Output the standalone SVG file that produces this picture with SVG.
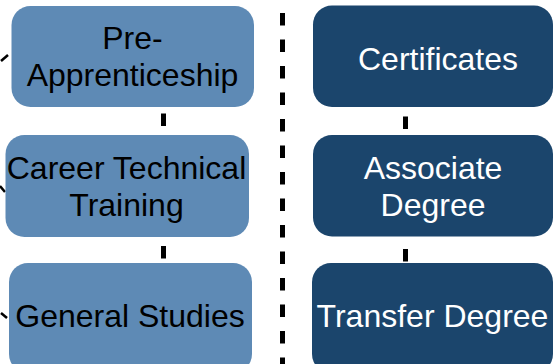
<svg xmlns="http://www.w3.org/2000/svg" width="553" height="364" viewBox="0 0 553 364">
<style>
.conn{stroke:#000;stroke-width:5;fill:none;stroke-dasharray:12.5 14}
.tick{stroke:#000;stroke-width:2.5;fill:none}
.lb{fill:#5e8ab5}
.rb{fill:#1b456c}
.lt{font-family:"Liberation Sans",Arial,sans-serif;font-size:32px;fill:#000;text-anchor:middle}
.rt{font-family:"Liberation Sans",Arial,sans-serif;font-size:32px;fill:#fff;text-anchor:middle}
</style>
<g id="connectors">
<line class="conn" x1="163.5" y1="-19" x2="163.5" y2="364"/>
<line class="conn" x1="405.5" y1="-16" x2="405.5" y2="364"/>
<line class="conn" x1="282.5" y1="-13.5" x2="282.5" y2="364"/>
<line class="tick" x1="1" y1="61" x2="8" y2="55"/>
<line class="tick" x1="0" y1="186" x2="5" y2="192"/>
<line class="tick" x1="1" y1="313" x2="7" y2="318"/>
</g>
<g id="pre-apprenticeship">
<rect class="lb" x="11.5" y="6" width="242.5" height="101" rx="19"/>
<text class="lt" x="132.5" y="49">Pre-</text>
<text class="lt" x="132.5" y="86">Apprenticeship</text>
</g>
<g id="career-technical-training">
<rect class="lb" x="5.5" y="135" width="243.5" height="102" rx="19"/>
<text class="lt" x="126.5" y="179">Career Technical</text>
<text class="lt" x="126.5" y="216">Training</text>
</g>
<g id="general-studies">
<rect class="lb" x="9" y="263" width="243" height="110" rx="19"/>
<text class="lt" x="130" y="327">General Studies</text>
</g>
<g id="certificates">
<rect class="rb" x="313" y="5.5" width="240" height="101.5" rx="19"/>
<text class="rt" x="438" y="70">Certificates</text>
</g>
<g id="associate-degree">
<rect class="rb" x="313" y="135" width="240" height="101.5" rx="19"/>
<text class="rt" x="433" y="179">Associate</text>
<text class="rt" x="433" y="216">Degree</text>
</g>
<g id="transfer-degree">
<rect class="rb" x="312" y="263" width="241" height="110" rx="19"/>
<text class="rt" x="432.5" y="327">Transfer Degree</text>
</g>
</svg>
